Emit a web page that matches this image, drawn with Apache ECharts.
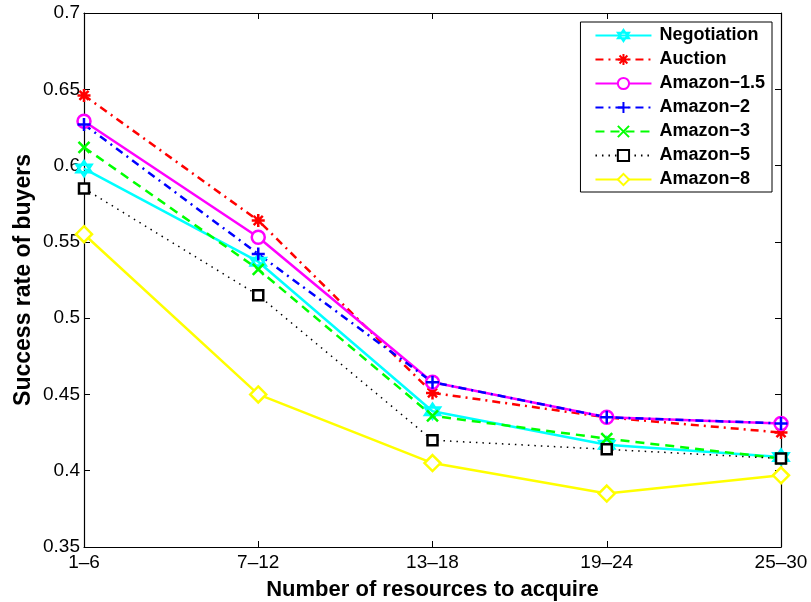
<!DOCTYPE html>
<html>
<head>
<meta charset="utf-8">
<script src="https://cdn.jsdelivr.net/npm/echarts@6/dist/echarts.min.js"></script>
<style>
  html, body { margin: 0; padding: 0; background: #fff; }
  #chart { width: 811px; height: 602px; }
</style>
</head>
<body>
<div id="chart"></div>
<script>
const categories = ['1–6', '7–12', '13–18', '19–24', '25–30'];

const negotiation = [0.598, 0.537, 0.439, 0.417, 0.409];
const auction     = [0.646, 0.564, 0.451, 0.435, 0.425];
const amazon15    = [0.629, 0.553, 0.458, 0.435, 0.431];
const amazon2     = [0.627, 0.542, 0.458, 0.435, 0.431];
const amazon3     = [0.612, 0.532, 0.436, 0.421, 0.408];
const amazon5     = [0.585, 0.515, 0.420, 0.414, 0.408];
const amazon8     = [0.555, 0.450, 0.405, 0.385, 0.397];

const font = 'Liberation Sans, Arial, Helvetica, sans-serif';

// marker shapes (stroked, matlab-ish)
const hexagram = 'path://M5,0L9.33,7.5L0.67,7.5Z M5,10L0.67,2.5L9.33,2.5Z';
const asterisk = 'path://M5,0L5,10M0,5L10,5M1.5,1.5L8.5,8.5M8.5,1.5L1.5,8.5';
const plus = 'path://M5,0L5,10M0,5L10,5';
const cross = 'path://M0,0L10,10M10,0L0,10';

function mk(name, data, color, lineType, symbol, size, width) {
  return {
    name: name,
    type: 'line',
    data: data,
    symbol: symbol,
    symbolSize: size,
    showSymbol: true,
    animation: false,
    lineStyle: { color: color, width: width || 2.5, type: lineType },
    itemStyle: { color: symbol.indexOf('path') === 0 ? 'rgba(0,0,0,0)' : '#fff', borderColor: color, borderWidth: 2.5 },
    emphasis: { disabled: true }
  };
}

const chart = echarts.init(document.getElementById('chart'));
chart.setOption({
  backgroundColor: '#fff',
  textStyle: { fontFamily: font },
  grid: { left: 84, top: 13, right: 30, bottom: 55, show: false, outerBoundsMode: 'none', containLabel: false },
  legend: {
    orient: 'vertical',
    right: 39,
    top: 22,
    padding: [4, 7, 3, 14],
    itemGap: 5,
    itemWidth: 56,
    itemHeight: 14,
    borderColor: '#000',
    borderWidth: 1,
    backgroundColor: '#fff',
    textStyle: { fontFamily: font, fontSize: 18, lineHeight: 19, fontWeight: 'bold', color: '#000', padding: [0, 0, 0, 3] }
  },
  xAxis: [{
    type: 'category',
    data: categories,
    boundaryGap: false,
    name: 'Number of resources to acquire',
    nameLocation: 'middle',
    nameGap: 32,
    nameMoveOverlap: false,
    nameTextStyle: { fontFamily: font, fontSize: 22, fontWeight: 'bold', color: '#000' },
    axisLine: { lineStyle: { color: '#000', width: 1.2 } },
    axisTick: { inside: true, length: 6, lineStyle: { color: '#000' } },
    axisLabel: { color: '#000', fontSize: 19, fontFamily: font, margin: 6 },
    splitLine: { show: false }
  }, {
    type: 'category',
    data: categories,
    boundaryGap: false,
    position: 'top',
    axisLine: { lineStyle: { color: '#000', width: 1.2 } },
    axisTick: { inside: true, length: 6, lineStyle: { color: '#000' } },
    axisLabel: { show: false }
  }],
  yAxis: [{
    type: 'value',
    min: 0.35,
    max: 0.7,
    interval: 0.05,
    name: 'Success rate of buyers',
    nameLocation: 'middle',
    nameGap: 49,
    nameMoveOverlap: false,
    nameTextStyle: { fontFamily: font, fontSize: 23, fontWeight: 'bold', color: '#000' },
    axisLine: { show: true, lineStyle: { color: '#000', width: 1.2 } },
    axisTick: { show: true, inside: true, length: 6, lineStyle: { color: '#000' } },
    axisLabel: { color: '#000', fontSize: 19, fontFamily: font, margin: 4 },
    splitLine: { show: false }
  }, {
    type: 'value',
    min: 0.35,
    max: 0.7,
    interval: 0.05,
    position: 'right',
    axisLine: { show: true, lineStyle: { color: '#000', width: 1.2 } },
    axisTick: { show: true, inside: true, length: 6, lineStyle: { color: '#000' } },
    axisLabel: { show: false },
    splitLine: { show: false }
  }],
  series: [
    mk('Negotiation', negotiation, '#00ffff', 'solid', hexagram, 15),
    mk('Auction', auction, '#ff0000', [8, 5, 2, 5], asterisk, 13),
    mk('Amazon\u22121.5', amazon15, '#ff00ff', 'solid', 'circle', 13),
    mk('Amazon\u22122', amazon2, '#0000ff', [8, 5, 2, 5], plus, 13),
    mk('Amazon\u22123', amazon3, '#00ff00', [9, 6], cross, 11),
    mk('Amazon\u22125', amazon5, '#000000', [1.5, 5], 'rect', 10, 1.5),
    mk('Amazon\u22128', amazon8, '#ffff00', 'solid', 'diamond', 16)
  ]
});
</script>
</body>
</html>
